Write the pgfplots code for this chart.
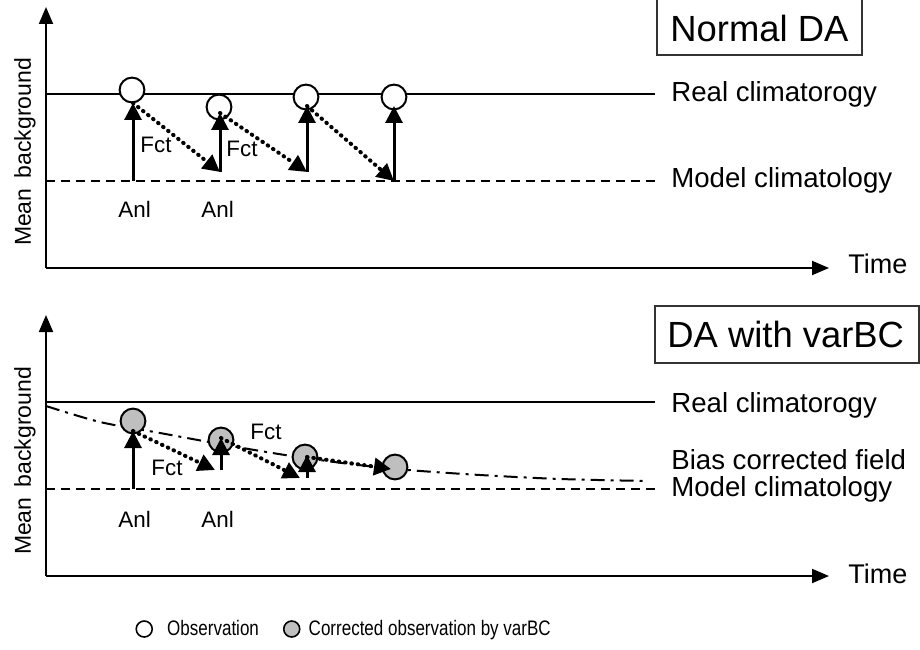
\documentclass[border=0pt]{standalone}
\usepackage{pgfplots}
\pgfplotsset{compat=1.18}
\usepackage{fontspec}
\setmainfont{Liberation Sans}
\newfontfamily\narrowfont{Liberation Sans}[FakeStretch=0.81]
\usetikzlibrary{arrows.meta}

\newcommand\fs[1]{\fontsize{#1}{#1}\selectfont}

% one data unit = one pixel of the 920x649 reference, y counted from the bottom
\pgfplotsset{
  panel/.style={x=0.5pt, y=0.5pt, xmin=46, xmax=829,
    axis lines=left, enlargelimits=false, xtick=\empty, ytick=\empty,
    clip=false, clip mode=individual, anchor=south west,
    axis line style={line width=1pt, -{Triangle[width=7pt,length=8.5pt]}}},
  real/.style={line width=1pt, black},
  model/.style={line width=0.8pt, black, dash pattern=on 4.5pt off 3pt},
  bias/.style={line width=1pt, black, dash pattern=on 7pt off 3pt on 1.5pt off 3pt},
  anl/.style={line width=1.5pt, black, -{Triangle[width=8.5pt,length=8.5pt]}},
  fct/.style={line width=2pt, black, line cap=round, dash pattern=on 0.3pt off 2.9pt,
    -{Triangle[width=8.5pt,length=8.5pt]}},
  obs/.style={only marks, mark=*, mark size=6.2pt,
    mark options={fill=white, draw=black, line width=1pt}},
  cobs/.style={only marks, mark=*, mark size=6.2pt,
    mark options={fill=black!25, draw=black, line width=1pt}},
}
\tikzset{
  lbl/.style={anchor=base west, inner sep=0pt, font=\fs{13.8}},
  smalllbl/.style={anchor=base west, inner sep=0pt, font=\fs{11.2}},
  ttl/.style={anchor=base west, inner sep=0pt, font=\fs{18.2}},
  ylbl/.style={rotate=90, anchor=base, inner sep=0pt, font=\fs{11.5}},
}

\begin{document}
\begin{tikzpicture}
\useasboundingbox (0,0) rectangle (460pt,324.5pt);

% ---------------- Normal DA ----------------
\begin{axis}[panel, ymin=381, ymax=642, at={(23pt,190.5pt)}]
\addplot[real] coordinates {(46,555) (655,555)};
\addplot[model] coordinates {(46,468) (655,468)};
\addplot[obs] coordinates {(132,559) (219,542) (306,552) (394,552)};
% analysis increments
\addplot[anl] coordinates {(133,468) (133,546)};
\addplot[anl] coordinates {(220,477) (220,536)};
\addplot[anl] coordinates {(307,477) (307,543)};
\addplot[anl] coordinates {(394,468) (394,543)};
% forecasts
\addplot[fct] coordinates {(133,546) (220,477)};
\addplot[fct] coordinates {(220,536) (307,477)};
\addplot[fct] coordinates {(307,543) (394,468)};

\node[smalllbl] at (axis cs:140,496) {Fct};
\node[smalllbl] at (axis cs:226,492) {Fct};
\node[smalllbl] at (axis cs:118,431) {Anl};
\node[smalllbl] at (axis cs:201,431) {Anl};
\node[lbl] at (axis cs:671,547) {Real climatorogy};
\node[lbl] at (axis cs:671,461) {Model climatology};
\node[lbl, font=\fs{13.5}] at (axis cs:848,376) {Time};
\node[ylbl] at (axis cs:31,497) {Mean\, background};
\draw[line width=0.75pt, black!80] (axis cs:657,660) -- (axis cs:657,594)
  -- (axis cs:862,594) -- (axis cs:862,660);
\node[ttl] at (axis cs:670,607) {Normal DA};
\end{axis}

% ---------------- DA with varBC ----------------
\begin{axis}[panel, ymin=73, ymax=334, at={(23pt,36.5pt)},
  legend columns=2,
  legend style={at={(axis description cs:0.1137,-0.2031)}, anchor=west,
    draw=none, fill=none, inner sep=0pt, nodes={inner sep=0pt},
    font=\narrowfont\fs{10.5},
    /tikz/every even column/.append style={column sep=12pt}}]
\addplot[real, forget plot] coordinates {(46,247) (655,247)};
\addplot[model, forget plot] coordinates {(46,160) (655,160)};
\addplot[bias, smooth, forget plot] coordinates {(46,243) (100,227) (160,216) (220,205)
  (285,194) (350,185) (408,179) (480,174) (560,170) (647,168)};
\addplot[cobs, forget plot] coordinates {(133,228) (221,209) (305,192) (395,182)};
% analysis increments
\addplot[anl, forget plot] coordinates {(133,160) (133,218)};
\addplot[anl, forget plot] coordinates {(221,179) (221,211)};
\addplot[anl, forget plot] coordinates {(307,171) (307,194)};
% forecasts
\addplot[fct, forget plot] coordinates {(133,218) (215,179)};
\addplot[fct, forget plot] coordinates {(221,211) (300,171)};
\addplot[fct, forget plot] coordinates {(307,192) (391,180)};

\addlegendimage{legend image code/.code={\path[draw=none, fill=none] (0,0) rectangle (15.5pt,0);
  \draw[solid, line width=0.8pt, black, fill=white] (4pt,0) circle (4pt);}}
\addlegendentry{Observation}
\addlegendimage{legend image code/.code={\path[draw=none, fill=none] (0,0) rectangle (12.5pt,0);
  \draw[solid, line width=0.8pt, black, fill=black!25] (4pt,0) circle (4pt);}}
\addlegendentry{Corrected observation by varBC}

\node[smalllbl] at (axis cs:151,174) {Fct};
\node[smalllbl] at (axis cs:250,210) {Fct};
\node[smalllbl] at (axis cs:118,122) {Anl};
\node[smalllbl] at (axis cs:201,122) {Anl};
\node[lbl] at (axis cs:671,237) {Real climatorogy};
\node[lbl] at (axis cs:671,180) {Bias corrected field};
\node[lbl] at (axis cs:671,153) {Model climatology};
\node[lbl, font=\fs{13.5}] at (axis cs:848,66) {Time};
\node[ylbl] at (axis cs:31,188) {Mean\, background};
\draw[line width=0.75pt, black!80] (axis cs:655,286) rectangle (axis cs:919,343);
\node[ttl] at (axis cs:667,302) {DA with varBC};
\end{axis}
\end{tikzpicture}
\end{document}
